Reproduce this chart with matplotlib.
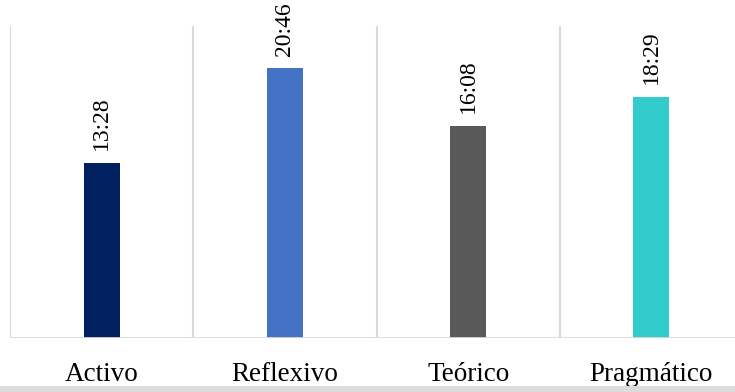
import matplotlib
matplotlib.use("Agg")
import matplotlib.pyplot as plt
from matplotlib.patches import Rectangle
from matplotlib.transforms import blended_transform_factory

categories = ["Activo", "Reflexivo", "Teórico", "Pragmático"]
values = [13.28, 20.46, 16.08, 18.29]
colors = ["#002060", "#4472C4", "#595959", "#33CCCC"]

W, H = 735, 392
fig = plt.figure(figsize=(W / 100, H / 100), dpi=100)

# axes in pixel coords: left 10, right 743 (extends past figure), bottom 338, top 26
left, right, top, bottom = 10, 743, 26, 338
ax = fig.add_axes([left / W, (H - bottom) / H, (right - left) / W, (bottom - top) / H])

x = list(range(len(categories)))
ax.bar(x, values, width=0.197, color=colors, zorder=3)
ax.set_xlim(-0.5, len(categories) - 0.5)
ax.set_ylim(0, 23.65)

for xi, v in zip(x, values):
    ax.annotate(f"{v:.2f}".replace(".", ":"), (xi, v), xytext=(0, 9),
                textcoords="offset points", rotation=90, ha="center", va="bottom",
                fontsize=17, family="Liberation Serif", color="#000000")

for b in [i - 0.5 for i in range(len(categories) + 1)]:
    ax.axvline(b, color="#d9d9d9", lw=1.5, zorder=1)
ax.axhline(0, color="#d9d9d9", lw=2, zorder=4)

for s in ax.spines.values():
    s.set_visible(False)
ax.set_xticks([])
ax.set_yticks([])

trans = blended_transform_factory(ax.transData, fig.transFigure)
for xi, c in zip(x, categories):
    ax.text(xi, 11 / H, c, transform=trans, ha="center", va="baseline",
            fontsize=19.5, family="Liberation Serif", color="#000000")

fig.patches.append(Rectangle((0, 0), 1, 6 / H, transform=fig.transFigure,
                             facecolor="#dcdcdc", edgecolor="none", zorder=0))

fig.savefig("out.png", dpi=100)
